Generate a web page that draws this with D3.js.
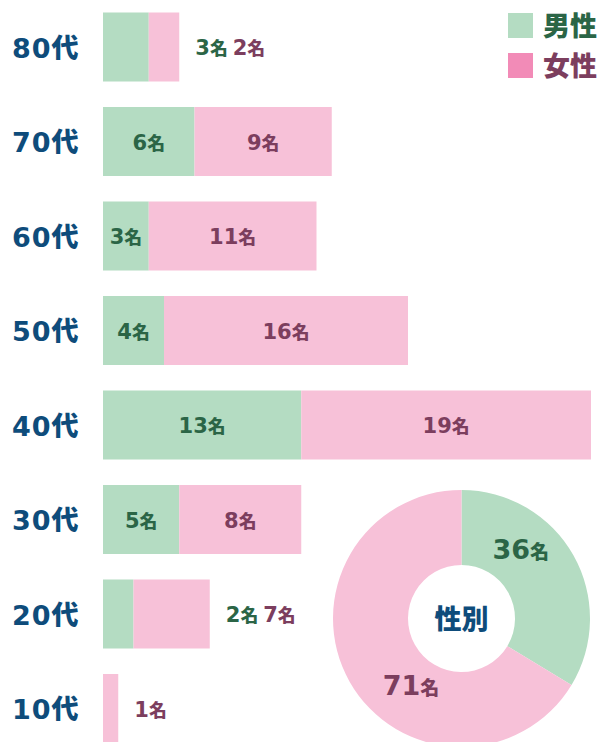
<!DOCTYPE html>
<html>
<head>
<meta charset="utf-8">
<script src="https://cdn.jsdelivr.net/npm/d3@7"></script>
<style>
  body { margin: 0; background: #fff; }
  svg { display: block; }
  text { font-family: "DejaVu Sans", "Noto Sans CJK JP", sans-serif; font-weight: 900; }
</style>
</head>
<body>
<div id="chart"></div>
<script>
// data
const ageGroups = ["80代", "70代", "60代", "50代", "40代", "30代", "20代", "10代"];
const maleCounts = [3, 6, 3, 4, 13, 5, 2, 0];
// bar lengths as drawn (20代 bar is 5 units wide, totals 71 like the donut)
const femaleCounts = [2, 9, 11, 16, 19, 8, 5, 1];
// numbers printed next to the bars
const maleLabels = [3, 6, 3, 4, 13, 5, 2, 0];
const femaleLabels = [2, 9, 11, 16, 19, 8, 7, 1];
const genderLabels = ["男性", "女性"];
const genderTotals = [36, 71];
const unit = "名";
const donutTitle = "性別";

const W = 603, H = 742;
const green = "#b4dcc2", pink = "#f7c1d8", legendPink = "#f28bb7";
const maleText = "#2b6546", femaleText = "#7c3e5e", catText = "#0e4c7b";

const svg = d3.select("#chart").append("svg")
    .attr("width", W)
    .attr("height", H);

const rows = ageGroups.map((g, i) => ({
    group: g, male: maleCounts[i], female: femaleCounts[i],
    maleLab: maleLabels[i], femaleLab: femaleLabels[i]
}));

// scales
const x = d3.scaleLinear().domain([0, 32]).range([103, 591]);
const step = 94.5, barH = 69;
const y = d3.scaleBand()
    .domain(ageGroups)
    .range([12.5, 12.5 + ageGroups.length * step - (step - barH)])
    .paddingInner((step - barH) / step)
    .paddingOuter(0);

// category labels
svg.selectAll(".cat").data(rows).enter()
    .append("text")
    .attr("class", "cat")
    .attr("x", 12)
    .attr("y", d => y(d.group) + y.bandwidth() / 2)
    .attr("dy", "0.4em")
    .attr("fill", catText)
    .attr("font-size", 27)
    .attr("letter-spacing", 1)
    .text(d => d.group);

// bars
const bar = svg.selectAll(".row").data(rows).enter()
    .append("g").attr("class", "row");

bar.append("rect")
    .attr("x", x(0))
    .attr("y", d => y(d.group))
    .attr("width", d => x(d.male) - x(0))
    .attr("height", y.bandwidth())
    .attr("fill", green);

bar.append("rect")
    .attr("x", d => x(d.male))
    .attr("y", d => y(d.group))
    .attr("width", d => x(d.male + d.female) - x(d.male))
    .attr("height", y.bandwidth())
    .attr("fill", pink);

function countLabel(sel, v, size) {
    sel.append("tspan").attr("font-size", size).text(v);
    sel.append("tspan").attr("font-size", size * 0.85).text(unit);
}

const fs = 21;
const labDy = "0.5em";
rows.forEach(function (d) {
    const cy = y(d.group) + y.bandwidth() / 2;
    const inside = d.male >= 3 && d.female >= 3;
    if (inside) {
        const tm = svg.append("text")
            .attr("x", (x(0) + x(d.male)) / 2)
            .attr("y", cy).attr("dy", labDy)
            .attr("text-anchor", "middle")
            .attr("fill", maleText);
        countLabel(tm, d.maleLab, fs);
        const tf = svg.append("text")
            .attr("x", (x(d.male) + x(d.male + d.female)) / 2)
            .attr("y", cy).attr("dy", labDy)
            .attr("text-anchor", "middle")
            .attr("fill", femaleText);
        countLabel(tf, d.femaleLab, fs);
    } else {
        let px = x(d.male + d.female) + 16;
        if (d.male > 0) {
            const tm = svg.append("text")
                .attr("x", px).attr("y", cy).attr("dy", labDy)
                .attr("fill", maleText);
            countLabel(tm, d.maleLab, fs);
            px += tm.node().getComputedTextLength() + 5;
        }
        if (d.female > 0) {
            const tf = svg.append("text")
                .attr("x", px).attr("y", cy).attr("dy", labDy)
                .attr("fill", femaleText);
            countLabel(tf, d.femaleLab, fs);
        }
    }
});

// legend
const legend = svg.append("g").selectAll("g").data(genderLabels).enter()
    .append("g")
    .attr("transform", (d, i) => `translate(508, ${13 + i * 40})`);
legend.append("rect")
    .attr("width", 25).attr("height", 25)
    .attr("fill", (d, i) => i === 0 ? green : legendPink);
legend.append("text")
    .attr("x", 35).attr("y", 12.5).attr("dy", "0.38em")
    .attr("font-size", 27)
    .attr("fill", (d, i) => i === 0 ? maleText : femaleText)
    .text(d => d);

// donut
const cx = 461.5, cy = 618.5, rOuter = 128.5, rInner = 53.5;
const pie = d3.pie().sort(null)(genderTotals);
const arc = d3.arc().innerRadius(rInner).outerRadius(rOuter);
const donut = svg.append("g").attr("transform", `translate(${cx}, ${cy})`);

donut.selectAll("path").data(pie).enter()
    .append("path")
    .attr("d", arc)
    .attr("fill", (d, i) => i === 0 ? green : pink);

const labelPos = [0.345, 0.397];
const labelR = [89, 86];
donut.selectAll(".plabel").data(pie).enter()
    .append("text")
    .attr("class", "plabel")
    .attr("text-anchor", "middle")
    .attr("dy", "0.4em")
    .attr("fill", (d, i) => i === 0 ? maleText : femaleText)
    .attr("transform", function (d, i) {
        const a = d.startAngle + (d.endAngle - d.startAngle) * labelPos[i];
        const r = labelR[i];
        return `translate(${r * Math.sin(a)}, ${-r * Math.cos(a)})`;
    })
    .each(function (d) {
        const t = d3.select(this);
        t.append("tspan").attr("font-size", 27).text(d.data);
        t.append("tspan").attr("font-size", 19).text(unit);
    });

donut.append("text")
    .attr("text-anchor", "middle")
    .attr("dy", "0.38em")
    .attr("font-size", 27)
    .attr("fill", catText)
    .text(donutTitle);
</script>
</body>
</html>
